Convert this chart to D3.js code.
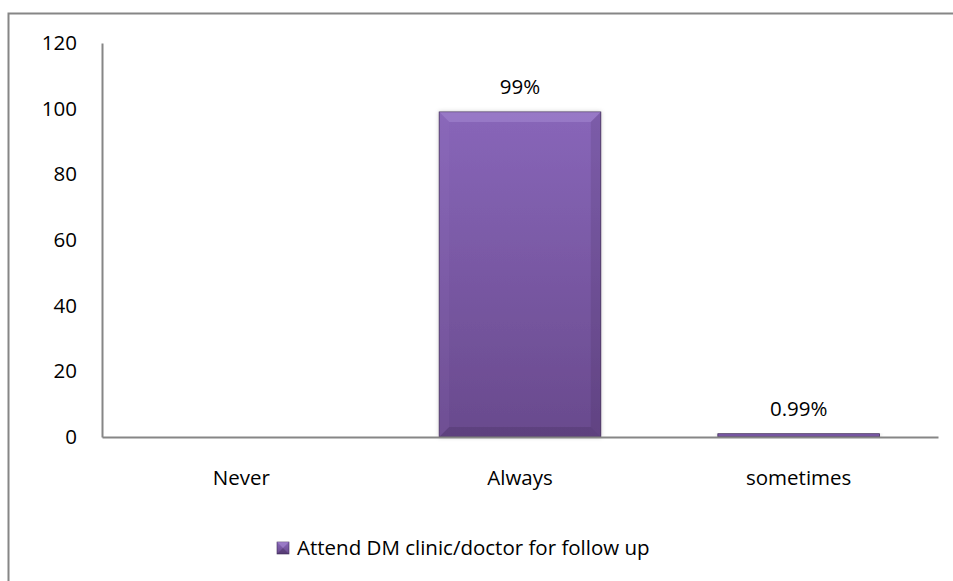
<!DOCTYPE html>
<html>
<head>
<meta charset="utf-8">
<script src="https://cdn.jsdelivr.net/npm/d3@7"></script>
<style>
  html, body { margin: 0; padding: 0; background: #fff; }
  svg { display: block; }
  svg text { font-family: "Open Sans", sans-serif; }
</style>
</head>
<body>
<svg id="chart" width="953" height="581"></svg>
<script>
// Chart data
const categories = ["Never", "Always", "sometimes"];
const values = [0, 99, 0.99];
const valueLabels = ["", "99%", "0.99%"];
const yTicks = [0, 20, 40, 60, 80, 100, 120];
const seriesName = "Attend DM clinic/doctor for follow up";

const FONT = "'Open Sans', sans-serif";
const FS = 20.5;

const svg = d3.select("#chart");
const W = 953, H = 581;
const plot = { left: 102, right: 938, top: 43, bottom: 437 };

// Outer chart frame (extends past the visible area on right and bottom)
svg.append("rect")
  .attr("x", 8.5).attr("y", 13.5)
  .attr("width", W + 20).attr("height", H + 20)
  .attr("fill", "none").attr("stroke", "#868686").attr("stroke-width", 2);

const x = d3.scaleBand().domain(categories)
  .range([plot.left, plot.right]).paddingInner(0.42).paddingOuter(0.21);
const y = d3.scaleLinear().domain([0, 120]).range([plot.bottom, plot.top]);

// Gradient for the bars
const defs = svg.append("defs");
const grad = defs.append("linearGradient").attr("id", "barGrad")
  .attr("x1", 0).attr("y1", 0).attr("x2", 0).attr("y2", 1);
grad.append("stop").attr("offset", "0%").attr("stop-color", "#8866b9");
grad.append("stop").attr("offset", "100%").attr("stop-color", "#694a8d");

const shadow = defs.append("filter").attr("id", "barShadow")
  .attr("x", "-10%").attr("y", "-10%").attr("width", "120%").attr("height", "120%");
shadow.append("feDropShadow").attr("dx", 0).attr("dy", 0)
  .attr("stdDeviation", 2).attr("flood-color", "#000").attr("flood-opacity", 0.2);

// Y axis (labels only, plain line)
const yAxis = d3.axisLeft(y).tickValues(yTicks).tickSize(0).tickPadding(25);
const yg = svg.append("g").attr("transform", `translate(${plot.left},0)`).call(yAxis)
  .attr("font-family", FONT).attr("font-size", FS);
yg.select(".domain").attr("stroke", "#868686").attr("stroke-width", 2);
yg.selectAll("text").attr("fill", "#000");

// Bars
const bars = svg.append("g");
categories.forEach((c, i) => {
  const v = values[i];
  if (v <= 0) return;
  const bx = x(c), bw = x.bandwidth();
  const by = y(v), bh = y(0) - y(v);
  const g = bars.append("g");
  g.append("rect").attr("x", bx).attr("y", by).attr("width", bw).attr("height", bh)
    .attr("fill", "url(#barGrad)").attr("stroke", "#3f2c57").attr("stroke-width", 0.8)
    .attr("filter", "url(#barShadow)");
  const b = Math.min(10, bh / 2);
  if (b > 2) {
    // bevelled edges: light top, soft sides, darker base
    g.append("path")
      .attr("d", `M${bx},${by} L${bx + bw},${by} L${bx + bw - b},${by + b} L${bx + b},${by + b} Z`)
      .attr("fill", "#a88bd3").attr("opacity", 0.5);
    g.append("path")
      .attr("d", `M${bx},${by} L${bx + b},${by + b} L${bx + b},${by + bh - b} L${bx},${by + bh} Z`)
      .attr("fill", "#9a7cc8").attr("opacity", 0.12);
    g.append("path")
      .attr("d", `M${bx + bw},${by} L${bx + bw - b},${by + b} L${bx + bw - b},${by + bh - b} L${bx + bw},${by + bh} Z`)
      .attr("fill", "#2a1b3d").attr("opacity", 0.12);
    g.append("path")
      .attr("d", `M${bx},${by + bh} L${bx + b},${by + bh - b} L${bx + bw - b},${by + bh - b} L${bx + bw},${by + bh} Z`)
      .attr("fill", "#2a1b3d").attr("opacity", 0.18);
  }
});

// X axis
const xAxis = d3.axisBottom(x).tickSize(0).tickPadding(33);
const xg = svg.append("g").attr("transform", `translate(0,${plot.bottom})`).call(xAxis)
  .attr("font-family", FONT).attr("font-size", FS);
xg.select(".domain").attr("stroke", "#868686").attr("stroke-width", 2);
xg.selectAll("text").attr("fill", "#000");

// Value labels
svg.append("g").selectAll("text")
  .data(categories.map((c, i) => ({ c, v: values[i], t: valueLabels[i] })).filter(d => d.t))
  .join("text")
  .attr("x", d => x(d.c) + x.bandwidth() / 2)
  .attr("y", d => y(d.v) - 18)
  .attr("text-anchor", "middle").attr("font-family", FONT).attr("font-size", FS).attr("fill", "#000")
  .text(d => d.t);

// Legend
const lg = svg.append("g").attr("transform", "translate(277,542)");
lg.append("rect").attr("x", 0).attr("y", 0).attr("width", 12).attr("height", 12)
  .attr("fill", "url(#barGrad)").attr("stroke", "#3f2c57").attr("stroke-width", 0.6);
lg.append("path").attr("d", "M0,0 L12,0 L6,6 Z").attr("fill", "#a88bd3").attr("opacity", 0.6);
lg.append("path").attr("d", "M0,12 L12,12 L6,6 Z").attr("fill", "#2a1b3d").attr("opacity", 0.3);
lg.append("text").attr("x", 20).attr("y", 13).attr("font-family", FONT).attr("font-size", FS).attr("fill", "#000")
  .text(seriesName);
</script>
</body>
</html>
